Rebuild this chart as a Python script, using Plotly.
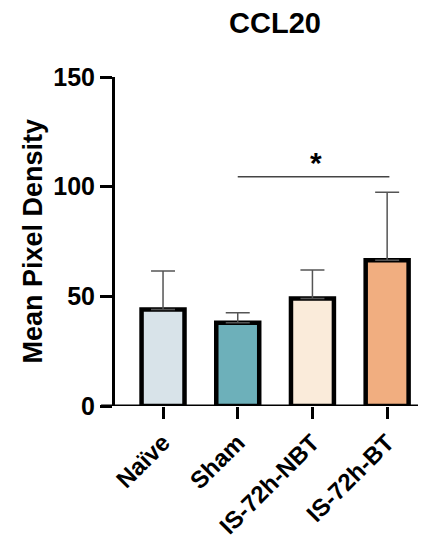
import plotly.graph_objects as go

categories = ["Naïve", "Sham", "IS-72h-NBT", "IS-72h-BT"]
means = [44, 38, 49, 66.5]
sd_upper = [17.5, 4.5, 13, 31]
colors = ["#d8e3e9", "#6db0ba", "#faebda", "#f1ae80"]
y_ticks = [0, 50, 100, 150]
sig_pair = (1, 3)
sig_y = 104.5
title = "CCL20"
y_title = "Mean Pixel Density"

FONT = "Liberation Sans, Arial, sans-serif"
x_idx = list(range(len(categories)))

fig = go.Figure()
fig.add_trace(go.Bar(
    x=x_idx, y=means, width=0.575,
    marker=dict(color=colors, line=dict(color="black", width=4.5)),
    error_y=dict(type="data", symmetric=False, array=sd_upper,
                 arrayminus=[0] * len(means), color="#555555",
                 thickness=1.5, width=12),
    showlegend=False,
))

fig.add_shape(type="line", xref="paper", yref="y", x0=-0.046, x1=1.0,
              y0=0, y1=0, line=dict(color="black", width=3), layer="above")
fig.add_shape(type="line", xref="x", yref="y", x0=sig_pair[0], x1=sig_pair[1] + 0.03,
              y0=sig_y, y1=sig_y, line=dict(color="#444444", width=1.5))
fig.add_annotation(x=(sig_pair[0] + sig_pair[1]) / 2 + 0.05, y=sig_y, yshift=14,
                   text="<b>*</b>", showarrow=False,
                   font=dict(family=FONT, size=30, color="black"))

fig.update_layout(
    width=428, height=541,
    margin=dict(l=115, r=10, t=77, b=135, autoexpand=False),
    paper_bgcolor="white", plot_bgcolor="white",
    title=dict(text=f"<b>{title}</b>", x=275 / 428, xanchor="center",
               y=1 - 23 / 541, yanchor="middle",
               font=dict(family=FONT, size=29, color="black")),
    font=dict(family=FONT, color="black"),
    xaxis=dict(range=[-0.643, 3.413], tickmode="array", tickvals=x_idx,
               ticktext=[f"<b>{c}</b>" for c in categories], automargin=False,
               tickangle=-45, ticks="outside", ticklen=12, tickwidth=3,
               tickcolor="black", showline=False, showgrid=False, zeroline=False,
               tickfont=dict(family=FONT, size=24, color="black")),
    yaxis=dict(range=[0, 150], tickmode="array", tickvals=y_ticks,
               ticktext=[f"<b>{t}</b>" for t in y_ticks], automargin=False,
               ticks="outside", ticklen=12, tickwidth=3, tickcolor="black",
               showline=True, linewidth=3, linecolor="black",
               showgrid=False, zeroline=False,
               tickfont=dict(family=FONT, size=25, color="black")),
)
fig.add_annotation(xref="paper", yref="paper", x=(32 - 115) / 303, y=0.5,
                   xanchor="center", yanchor="middle", textangle=-90,
                   text=f"<b>{y_title}</b>", showarrow=False,
                   font=dict(family=FONT, size=27, color="black"))

fig.write_html("out.html")
